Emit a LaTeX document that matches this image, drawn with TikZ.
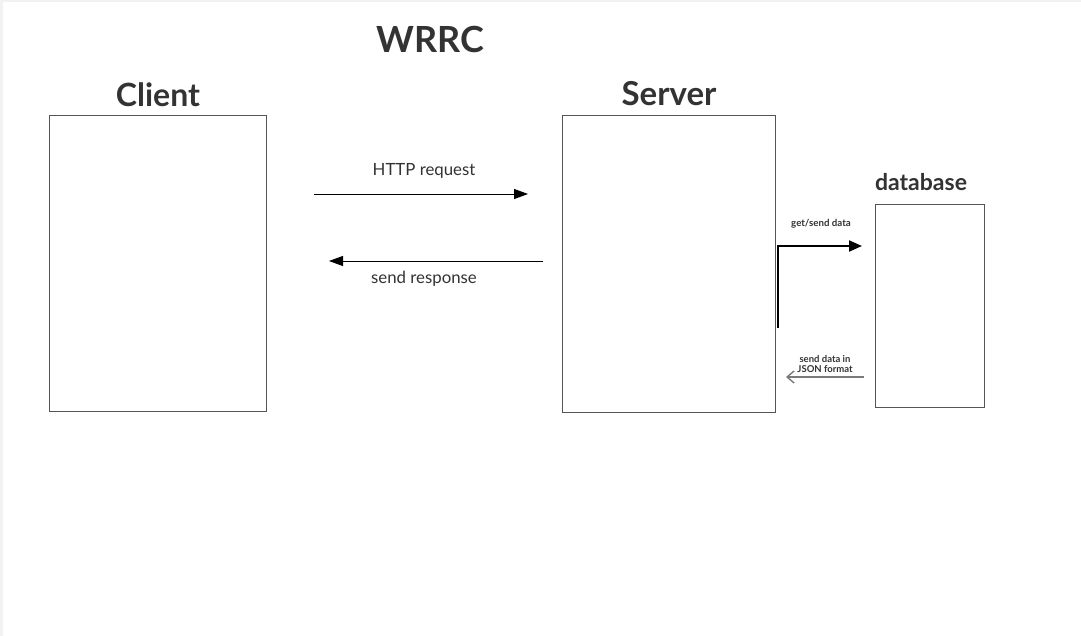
\documentclass[tikz,border=0pt]{standalone}
\usepackage{fontspec}
\setmainfont{Lato}
\usetikzlibrary{arrows.meta}
\definecolor{ink}{HTML}{333333}
\definecolor{framegrey}{HTML}{F2F2F2}
\definecolor{boxline}{HTML}{555555}
\definecolor{greyarrow}{HTML}{7A7A7A}
\begin{document}
\begin{tikzpicture}[x=1pt,y=-1pt,
  boxnode/.style={draw=boxline, line width=0.9pt, inner sep=0pt, fill=white},
  heading/.style={text=ink, font=\bfseries, inner sep=0pt, anchor=center},
  label/.style={text=ink, inner sep=0pt, anchor=center},
  flow/.style={line width=0.9pt, -{Triangle[length=14pt,width=10pt]}},
  dbflow/.style={line width=2pt, -{Triangle[length=13pt,width=11pt]}},
  retflow/.style={draw=greyarrow, line width=1.4pt, -{Straight Barb[length=7pt,width=12pt]}}]
\useasboundingbox (0,0) rectangle (1081,636);
\fill[framegrey] (0,0) rectangle (1081,636);
\fill[white] (3,2) rectangle (1081,636);

\node[heading, font=\bfseries\fontsize{36}{40}\selectfont] (title) at (430,39) {WRRC};
\node[heading, font=\bfseries\fontsize{32}{36}\selectfont] (clienthead) at (158,95) {Client};
\node[heading, font=\bfseries\fontsize{33}{37}\selectfont] (serverhead) at (669,94) {Server};
\node[heading, font=\bfseries\fontsize{23}{27}\selectfont] (dbhead) at (921,182) {database};

\node[boxnode, minimum width=217pt, minimum height=296pt] (client) at (157.5,263) {};
\node[boxnode, minimum width=213pt, minimum height=297pt] (server) at (668.5,263.5) {};
\node[boxnode, minimum width=109pt, minimum height=203pt] (db) at (929.5,305.5) {};

\coordinate (reqs) at (314,194);
\coordinate (reqe) at (528,194);
\draw[flow] (reqs) -- (reqe);
\node[label, font=\fontsize{16.8}{20}\selectfont] (reqlabel) at (424,171) {HTTP request};

\coordinate (ress) at (543,261);
\coordinate (rese) at (329,261);
\draw[flow] (ress) -- (rese);
\node[label, font=\fontsize{16.8}{20}\selectfont] (reslabel) at (424,279) {send response};

\coordinate (gets) at (778,328);
\coordinate (getc) at (778,246);
\coordinate (gete) at (862,246);
\draw[dbflow] (gets) -- (getc) -- (gete);
\node[label, font=\bfseries\fontsize{9.7}{10.5}\selectfont] (getlabel) at (821,224) {get/send data};

\coordinate (jsons) at (864,377);
\coordinate (jsone) at (786,377);
\draw[retflow] (jsons) -- (jsone);
\node[label, font=\bfseries\fontsize{9.5}{10}\selectfont, align=center] (jsonlabel) at (825,364) {send data in\\JSON format};
\end{tikzpicture}
\end{document}
